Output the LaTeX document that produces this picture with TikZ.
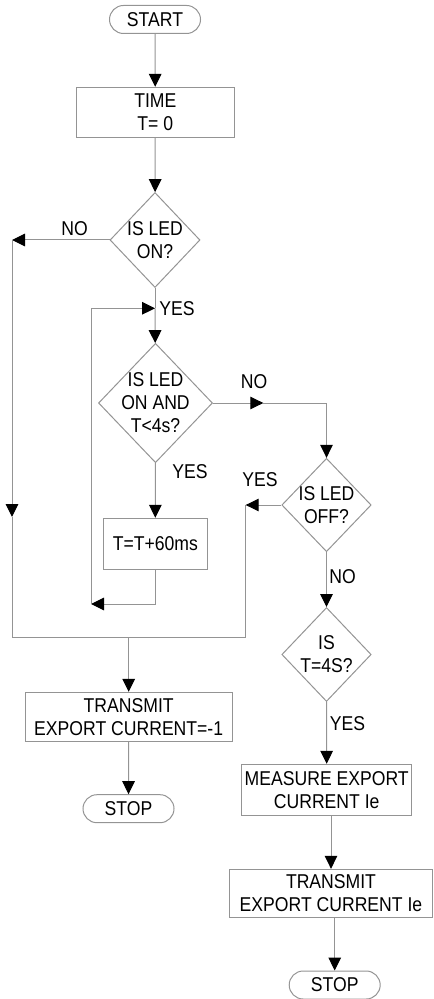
\documentclass[tikz,border=0pt]{standalone}
\usepackage{fontspec}
\setmainfont[FakeStretch=0.88]{Liberation Sans}
\usetikzlibrary{arrows.meta,shapes.geometric}

\begin{document}
\begin{tikzpicture}[x=0.5pt,y=-0.5pt,font=\fontsize{10}{11.5}\selectfont,
  line/.style={draw=black!42,line width=0.5pt},
  tip/.style={line,-{Triangle[length=6.5pt,width=6.3pt,color=black]}},
  term/.style={line,rectangle,rounded corners=7pt,minimum width=45.5pt,minimum height=14pt,inner sep=0pt},
  proc/.style={line,rectangle,inner sep=0pt,align=center},
  dec/.style={line,diamond,inner sep=0pt}]
\useasboundingbox (0,0) rectangle (433,999);
% left column
\node[term] (start) at (155,19.5) {START};
\node[proc,minimum width=79.3pt,minimum height=25.2pt] (time) at (155.3,112.5) {TIME\\T= 0};
\node[dec,minimum width=45pt,minimum height=47.5pt,label={[align=center]center:IS LED\\ON?}] (d1) at (155,240) {};
\node[dec,minimum width=57pt,minimum height=59.7pt,label={[align=center]center:IS LED\\ON AND\\T<4s?}] (d2) at (155.5,403) {};
\node[proc,minimum width=52pt,minimum height=25.5pt] (inc) at (155.3,543.8) {T=T+60ms};
\node[proc,minimum width=103.7pt,minimum height=24.4pt] (tx1) at (128.7,716.7) {TRANSMIT\\EXPORT CURRENT=-1};
\node[term] (stop1) at (128.5,808.7) {STOP};
% right column
\node[dec,minimum width=44.7pt,minimum height=46.7pt,label={[align=center]center:IS LED\\OFF?}] (d3) at (326.5,505) {};
\node[dec,minimum width=44.7pt,minimum height=47pt,label={[align=center]center:IS\\T=4S?}] (d4) at (326.5,654.5) {};
\node[proc,minimum width=85pt,minimum height=25.4pt] (meas) at (326.7,789.7) {MEASURE EXPORT\\CURRENT Ie};
\node[proc,minimum width=101.5pt,minimum height=24.2pt] (tx2) at (331,893.5) {TRANSMIT\\EXPORT CURRENT Ie};
\node[term] (stop2) at (334.7,985) {STOP};
% branch labels
\node (lno1) at (74.5,229) {NO};
\node (lyes1) at (177,309) {YES};
\node (lno2) at (254,381.7) {NO};
\node (lyes2) at (190,472) {YES};
\node (lyes3) at (260,479.7) {YES};
\node (lno3) at (342.5,576.7) {NO};
\node (lyes4) at (347.5,724) {YES};
% bends
\coordinate (no1) at (12,240);
\coordinate (dn1) at (12,517);
\coordinate (bl) at (12,637.7);
\coordinate (br) at (245.7,637.7);
\coordinate (ye3) at (245.7,505);
\coordinate (jn) at (128.7,637.7);
\coordinate (lp) at (91,604);
\coordinate (yes1) at (155,308.3);
\coordinate (no2) at (263.3,403);
\draw[tip] (start) -- (time);
\draw[tip] (time) -- (d1);
\draw[tip] (d1.west) -- (no1);
\draw[tip] (no1) -- (dn1);
\draw[line] (dn1) -- (bl) -- (br) -- (ye3);
\draw[tip] (d3.west) -- (ye3);
\draw[tip] (jn) -- (tx1);
\draw[tip] (tx1) -- (stop1);
\draw[line] (d1.south) -- (yes1);
\draw[tip] (yes1) -- (d2);
\draw[tip] (d2) -- (inc);
\draw[tip] (inc.south) |- (lp);
\draw[tip] (lp) |- (yes1);
\draw[tip] (d2.east) -- (no2);
\draw[tip] (no2) -| (d3.north);
\draw[tip] (d3) -- (d4);
\draw[tip] (d4) -- (meas);
\draw[tip] (tx2.north |- meas.south) -- (tx2.north);
\draw[tip] (stop2.north |- tx2.south) -- (stop2);
\end{tikzpicture}
\end{document}
